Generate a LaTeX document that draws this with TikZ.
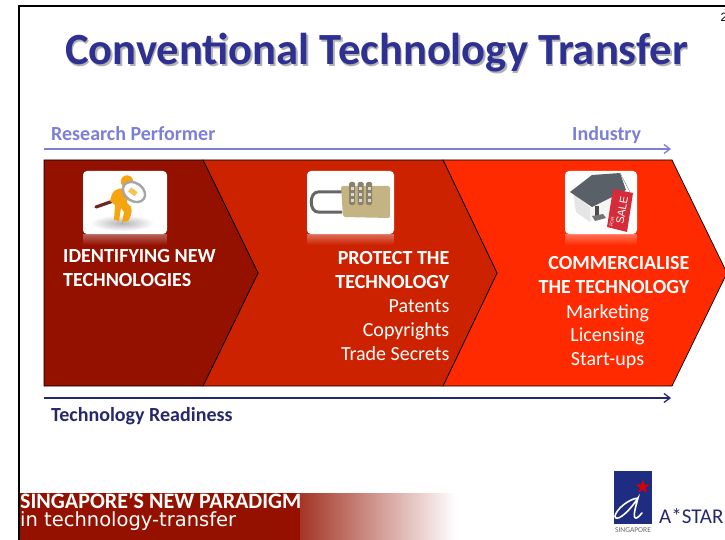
\documentclass[tikz,border=0pt]{standalone}
\usepackage{fontspec}
\setmainfont{Carlito}
\newfontfamily\verafont{DejaVu Sans}
\newfontfamily\libfont{Liberation Sans}
\usetikzlibrary{arrows.meta,fadings}
\definecolor{darkred}{HTML}{941100}
\definecolor{midred}{HTML}{CC2200}
\definecolor{brightred}{HTML}{FF2A00}
\definecolor{titleblue}{HTML}{2E3192}
\definecolor{periw}{HTML}{7B7FD6}
\definecolor{navytxt}{HTML}{26286E}
\definecolor{brass}{HTML}{C4B484}
\definecolor{brassdk}{HTML}{8C8269}
\definecolor{saletag}{HTML}{D62B38}
\definecolor{logoblue}{HTML}{1E2D82}
\definecolor{manorange}{HTML}{F5A50F}
\definecolor{handle}{HTML}{6B2A20}
\definecolor{roof}{HTML}{5A6068}
\tikzset{
 x=1pt,y=-1pt,
 chev/.style={draw=black,line width=.7pt},
 lab/.style={inner sep=0,text=white,font=\fontsize{20}{23.8}\selectfont,align=center},
 card/.style={fill=white,rounded corners=4pt},
 titletxt/.style={inner sep=0,font=\fontsize{44.6}{50}\selectfont\bfseries,text=titleblue},
 axis/.style={line width=1.3pt,-{Straight Barb[length=6pt,width=9pt]}},
 axlab/.style={inner sep=0,anchor=base west,font=\fontsize{20}{24}\selectfont\bfseries},
 reflect/.style={white,opacity=.35,path fading=south},
}
\begin{document}
\begin{tikzpicture}
\useasboundingbox (0,0) rectangle (725,540);
% frame
\draw[line width=2pt,black] (19,540) -- (19,6) -- (725,6);
% title
\node[titletxt,text=black!60,opacity=.5] (titleshadow) at (378,55) {Conventional Technology Transfer};
\node[titletxt] (title) at (376.5,53) {Conventional Technology Transfer};
\node[inner sep=0,font=\libfont\fontsize{12}{12}\selectfont] (pg) at (724,17) {2};
% axis 1
\node[axlab,text=periw] (rp) at (51,140.5) {Research Performer};
\node[axlab,text=periw] (ind) at (572,140.5) {Industry};
\coordinate (a1) at (44,149); \coordinate (a2) at (671,149);
\draw[axis,periw] (a1) -- (a2);
% chevrons
\draw[chev,fill=brightred] (443,160) -- (672,160) -- (727,273) -- (672,386) -- (443,386) -- (497,273) -- cycle;
\draw[chev,fill=midred] (203,160) -- (443,160) -- (497,273) -- (443,386) -- (203,386) -- (258,273) -- cycle;
\draw[chev,fill=darkred] (44,160) -- (203,160) -- (258,273) -- (203,386) -- (44,386) -- cycle;
% card 1: man with magnifier
\fill[reflect] (83,234) rectangle (167,245);
\fill[card] (83,171) rectangle (167,234);
\shade[inner color=black!30,outer color=white] (122,223) ellipse (32 and 8);
\draw[line width=3.2pt,draw=handle,line cap=round] (96,207) -- (116,200);
\fill[manorange] (127,181.5) circle (6.2);
\fill[manorange] (112,194) .. controls (116,187) and (124,187) .. (128,192) -- (127,203) -- (131,207) .. controls (133,212) and (130,218) .. (128,221) -- (122,222) -- (124,212) -- (121,208) -- (119,221) -- (114,220) -- (115,205) -- (110,201) -- cycle;
\draw[line width=2.4pt,black!35,fill=white,rotate around={-35:(134,192)}] (134,192) ellipse (12 and 9);
\fill[manorange!70!white,rotate around={-35:(134,192)}] (129,190) rectangle (137,195);
% card 2: padlock
\fill[reflect] (307,234) rectangle (394,245);
\fill[card] (307,171) rectangle (394,234);
\draw[line width=3pt,black!60] (342,212) -- (318,212) .. controls (309,212) and (309,192) .. (318,192) -- (342,192);
\fill[brass,rounded corners=2pt] (341,186) -- (390,186) -- (390,218) -- (343,217) -- cycle;
\foreach \px in {352,360.5,369}{
 \fill[brassdk,rounded corners=1.5pt] (\px-3,182) rectangle (\px+3,205);
 \foreach \py in {187,193,199}{\fill[black!15] (\px-1.5,\py) rectangle (\px+1.5,\py+3);}
}
% card 3: house with tag
\fill[reflect] (565,234) rectangle (637,245);
\fill[card] (565,171) rectangle (637,234);
\fill[black!10] (573,193) -- (590,207) -- (590,222) -- (576,212) -- cycle;
\fill[black!4] (590,207) -- (622,192) -- (618,212) -- (590,222) -- cycle;
\fill[roof] (570,192) -- (592,175) -- (620,173) -- (626,190) -- (592,207) -- cycle;
\fill[black!70] (595,206) rectangle (599,216);
\fill[black!55] (592,216) -- (603,214) -- (606,218) -- (595,221) -- cycle;
\draw[black!50,line width=.4pt] (620,173) -- (630,192);
\fill[saletag] (613,189) -- (633,193) -- (627,232) -- (607,227) -- cycle;
\node[rotate=80,inner sep=0,text=white,font=\libfont\fontsize{11}{11}\selectfont] (sale) at (622,210) {SALE};
\node[rotate=80,inner sep=0,text=white,font=\libfont\fontsize{4.5}{5}\selectfont] (for) at (612,222) {FOR};
% labels
\node[lab,anchor=north west,align=left,font=\fontsize{20}{23.8}\selectfont\bfseries] (l1) at (63,249.5) {IDENTIFYING NEW\\TECHNOLOGIES};
\node[lab,anchor=north east,align=right] (l2) at (449.5,251.5) {\textbf{PROTECT THE}\\\textbf{TECHNOLOGY}\\Patents\\Copyrights\\Trade Secrets};
\node[lab,anchor=north east,align=right] (l3a) at (689.5,256.5) {\textbf{COMMERCIALISE}\\\textbf{THE TECHNOLOGY}};
\node[lab,anchor=north] (l3b) at (607.5,304) {Marketing\\Licensing\\Start-ups};
% axis 2
\coordinate (b1) at (44,398); \coordinate (b2) at (671,398);
\draw[axis,navytxt] (b1) -- (b2);
\node[axlab,text=navytxt] (tr) at (51,421) {Technology Readiness};
% footer
\fill[darkred] (20,493) rectangle (300,540);
\shade[left color=darkred!85!white,right color=white] (300,493) rectangle (456,540);
\node[inner sep=0,anchor=west,text=white,font=\fontsize{22}{22}\selectfont\bfseries] (f1) at (20,500.5) {SINGAPORE’S NEW PARADIGM};
\node[inner sep=0,anchor=west,text=white,font=\verafont\fontsize{19.5}{22}\selectfont] (f2) at (20,521) {in technology-transfer};
% logo
\fill[logoblue] (614,471) rectangle (652,523.5);
\draw[white,line width=1.6pt,line cap=round] (638,498) .. controls (628,499) and (616,510) .. (615,516) .. controls (615,522) and (626,516) .. (638,498) .. controls (636,506) and (632,518) .. (636,518) .. controls (638,518) and (640,515) .. (642,513);
\node[inner sep=0,text=red!85!black,font=\verafont\fontsize{19}{19}\selectfont] (star) at (643,487) {★};
\node[inner sep=0,text=black!60,font=\fontsize{7.5}{8}\selectfont] (sg) at (633,530.5) {SINGAPORE};
\node[inner sep=0,anchor=west,text=navytxt,font=\fontsize{21}{22}\selectfont] (astar) at (659,516) {A*STAR};
\end{tikzpicture}
\end{document}
